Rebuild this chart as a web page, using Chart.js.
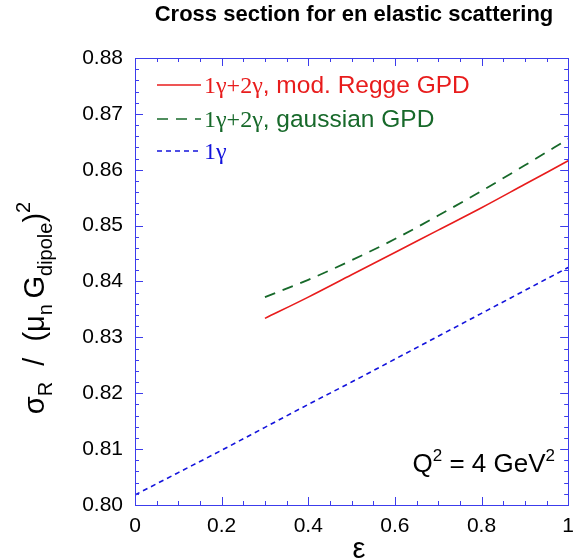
<!DOCTYPE html>
<html>
<head>
<meta charset="utf-8">
<script src="https://cdn.jsdelivr.net/npm/chart.js@4.4.1/dist/chart.umd.min.js"></script>
<style>
  html, body { margin: 0; padding: 0; background: #fff; }
  #wrap { width: 583px; height: 560px; position: relative; }
</style>
</head>
<body>
<div id="wrap"><canvas id="chart"></canvas></div>
<script>
// epsilon values and reduced cross sections
const epsOneGamma = [0, 0.1, 0.2, 0.3, 0.4, 0.5, 0.6, 0.7, 0.8, 0.9, 1.0];
const oneGamma = [0.8018, 0.8058, 0.8098, 0.8139, 0.8180, 0.8220, 0.8261, 0.8302, 0.8343, 0.8384, 0.8425];

const epsTwoGamma = [0.3, 0.4, 0.5, 0.6, 0.7, 0.8, 0.9, 1.0];
const reggeGPD = [0.8334, 0.8372, 0.8412, 0.8452, 0.8492, 0.8532, 0.8574, 0.8616];
const gaussianGPD = [0.8372, 0.8403, 0.8438, 0.8476, 0.8518, 0.8562, 0.8608, 0.8655];

const xTicks = [0, 0.2, 0.4, 0.6, 0.8, 1];
const yTicks = [0.80, 0.81, 0.82, 0.83, 0.84, 0.85, 0.86, 0.87, 0.88];

const RED = '#e81c1c';
const GREEN = '#17692a';
const BLUE = '#1414dc';
const FRAME = '#3c3cec';
const SANS = '"Liberation Sans", Arial, sans-serif';
const SERIF = '"Liberation Serif", "Times New Roman", serif';

function toPoints(xs, ys) {
  return xs.map((x, i) => ({ x: x, y: ys[i] }));
}

// frame with inward ticks on all four sides
const framePlugin = {
  id: 'frame',
  afterDatasetsDraw(chart) {
    const { ctx, chartArea: a, scales } = chart;
    const xs = scales.x, ys = scales.y;
    ctx.save();
    ctx.strokeStyle = FRAME;
    ctx.lineWidth = 1;
    ctx.beginPath();
    for (let i = 0; i <= 20; i++) {
      const v = i * 0.05;
      const px = Math.round(xs.getPixelForValue(v)) + 0.5;
      const len = i % 4 === 0 ? 8 : 4;
      ctx.moveTo(px, a.bottom); ctx.lineTo(px, a.bottom - len);
      ctx.moveTo(px, a.top); ctx.lineTo(px, a.top + len);
    }
    for (let i = 0; i <= 40; i++) {
      const v = 0.80 + i * 0.002;
      const py = Math.round(ys.getPixelForValue(v)) + 0.5;
      const len = i % 5 === 0 ? 8 : 4;
      ctx.moveTo(a.left, py); ctx.lineTo(a.left + len, py);
      ctx.moveTo(a.right, py); ctx.lineTo(a.right - len, py);
    }
    ctx.stroke();
    ctx.strokeRect(Math.round(a.left) + 0.5, Math.round(a.top) + 0.5,
      Math.round(a.right - a.left), Math.round(a.bottom - a.top));
    ctx.restore();
  }
};

// draws a run of text pieces: [text, font, baseline offset, colour]
function drawRuns(ctx, runs, x, y, align) {
  let total = 0;
  runs.forEach(r => { ctx.font = r[1]; total += ctx.measureText(r[0]).width; });
  let cx = align === 'center' ? x - total / 2 : align === 'right' ? x - total : x;
  ctx.textAlign = 'left';
  ctx.textBaseline = 'alphabetic';
  runs.forEach(r => {
    ctx.font = r[1];
    ctx.fillStyle = r[3] || '#000';
    ctx.fillText(r[0], cx, y + (r[2] || 0));
    cx += ctx.measureText(r[0]).width;
  });
}

const textPlugin = {
  id: 'texts',
  afterDraw(chart) {
    const { ctx, chartArea: a } = chart;
    ctx.save();
    // title
    ctx.fillStyle = '#000';
    ctx.font = 'bold 22px ' + SANS;
    ctx.textAlign = 'center';
    ctx.textBaseline = 'alphabetic';
    ctx.fillText('Cross section for en elastic scattering', 354, 21);

    // x axis title
    ctx.font = '29px ' + SANS;
    ctx.fillText('ε', 359, 558);

    // y axis title, rotated
    ctx.save();
    ctx.translate(44, 308);
    ctx.rotate(-Math.PI / 2);
    const big = '29px ' + SANS, small = '20px ' + SANS;
    drawRuns(ctx, [
      ['σ', big, 0], ['R', small, 8], ['  /  (', big, 0], ['μ', big, 0], ['n', small, 8],
      [' ', small, 0], ['G', big, 0], ['dipole', small, 8], [')', big, 0], ['2', small, -14]
    ], 0, 0, 'center');
    ctx.restore();

    // legend
    const rows = [
      { y: 85, color: RED, dash: [], serif: '1γ+2γ', sans: ', mod. Regge GPD' },
      { y: 119, color: GREEN, dash: [11, 8], serif: '1γ+2γ', sans: ', gaussian GPD' },
      { y: 151, color: BLUE, dash: [5, 4], serif: '1γ', sans: '' }
    ];
    rows.forEach(r => {
      ctx.save();
      ctx.strokeStyle = r.color;
      ctx.lineWidth = 1.6;
      ctx.setLineDash(r.dash);
      ctx.beginPath();
      ctx.moveTo(157, r.y);
      ctx.lineTo(201, r.y);
      ctx.stroke();
      ctx.restore();
      drawRuns(ctx, [[r.serif, '24px ' + SERIF, 0, r.color], [r.sans, '24.5px ' + SANS, 0, r.color]],
        204, r.y + 8, 'left');
    });

    // kinematics label
    drawRuns(ctx, [
      ['Q', '26px ' + SANS, 0], ['2', '17px ' + SANS, -11], [' = 4 GeV', '26px ' + SANS, 0],
      ['2', '17px ' + SANS, -11]
    ], 555, 472, 'right');
    ctx.restore();
  }
};

new Chart(document.getElementById('chart'), {
  type: 'line',
  data: {
    datasets: [
      {
        label: '1γ+2γ, mod. Regge GPD',
        data: toPoints(epsTwoGamma, reggeGPD),
        borderColor: RED,
        borderWidth: 1.6,
        pointRadius: 0,
        cubicInterpolationMode: 'monotone'
      },
      {
        label: '1γ+2γ, gaussian GPD',
        data: toPoints(epsTwoGamma, gaussianGPD),
        borderColor: GREEN,
        borderWidth: 1.8,
        borderDash: [11, 8],
        pointRadius: 0,
        cubicInterpolationMode: 'monotone'
      },
      {
        label: '1γ',
        data: toPoints(epsOneGamma, oneGamma),
        borderColor: BLUE,
        borderWidth: 1.6,
        borderDash: [5, 4],
        pointRadius: 0,
        cubicInterpolationMode: 'monotone'
      }
    ]
  },
  options: {
    responsive: true,
    maintainAspectRatio: false,
    animation: false,
    layout: { padding: { left: 0, right: 6, top: 58, bottom: 0 } },
    plugins: {
      legend: { display: false },
      title: { display: false },
      tooltip: { enabled: false }
    },
    scales: {
      x: {
        type: 'linear',
        min: 0,
        max: 1,
        afterFit(s) { s.height = 55; },
        afterBuildTicks(s) { s.ticks = xTicks.map(v => ({ value: v })); },
        grid: { display: false, drawTicks: false },
        border: { display: false },
        ticks: {
          color: '#000',
          padding: 9,
          maxRotation: 0,
          font: { family: SANS, size: 21 },
          callback: v => (v === 0 || v === 1) ? String(v) : v.toFixed(1)
        }
      },
      y: {
        type: 'linear',
        min: 0.80,
        max: 0.88,
        afterFit(s) { s.width = 135; },
        afterBuildTicks(s) { s.ticks = yTicks.map(v => ({ value: v })); },
        grid: { display: false, drawTicks: false },
        border: { display: false },
        ticks: {
          color: '#000',
          padding: 12,
          font: { family: SANS, size: 21 },
          callback: v => v.toFixed(2)
        }
      }
    }
  },
  plugins: [framePlugin, textPlugin]
});
</script>
</body>
</html>
